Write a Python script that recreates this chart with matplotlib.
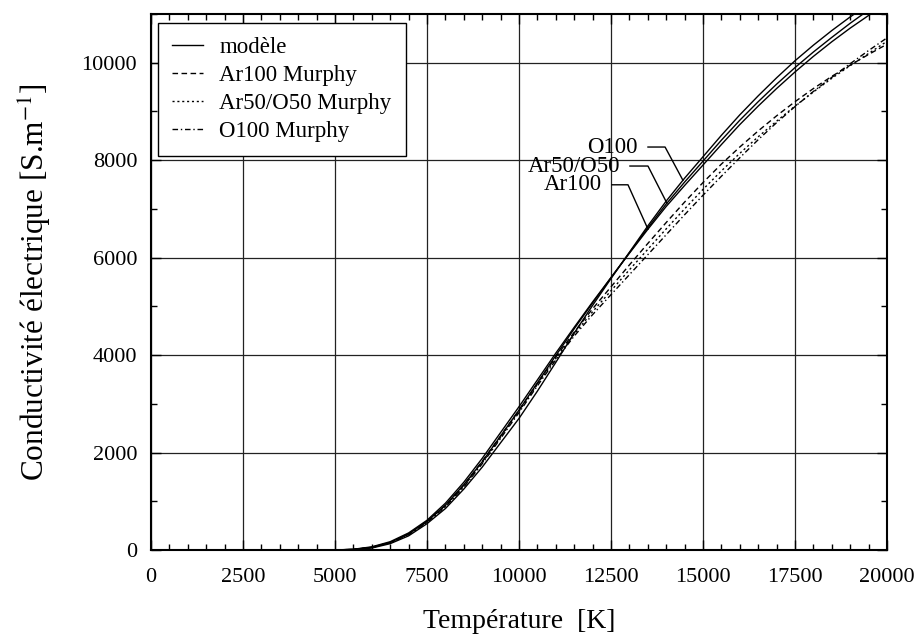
import numpy as np
import matplotlib
matplotlib.use("Agg")
import matplotlib.pyplot as plt
from matplotlib.ticker import MultipleLocator

plt.rcParams['font.family'] = ['Liberation Serif', 'DejaVu Serif']
plt.rcParams['mathtext.fontset'] = 'stix'

# temperature grid [K]
temp = [5000, 5500, 6000, 6500, 7000, 7500, 8000, 8500, 9000, 9500,
        10000, 10500, 11000, 11500, 12000, 12500, 13000, 13500, 14000, 14500,
        15000, 15500, 16000, 16500, 17000, 17500, 18000, 18500, 19000, 19500, 20000]

# modele (solid)
sig_o100 = [0, 8, 40, 130, 290, 540, 850, 1250, 1700, 2200,
            2700, 3260, 3850, 4450, 5020, 5570, 6110, 6650, 7160, 7630,
            8070, 8510, 8930, 9320, 9690, 10040, 10360, 10660, 10940, 11200, 11450]
sig_ar50 = [0, 12, 55, 155, 330, 590, 920, 1340, 1810, 2340,
            2870, 3430, 3990, 4540, 5070, 5590, 6100, 6610, 7100, 7550,
            7980, 8410, 8820, 9200, 9560, 9900, 10220, 10520, 10810, 11080, 11340]
sig_ar100 = [0, 15, 65, 170, 350, 610, 960, 1390, 1880, 2410,
             2940, 3490, 4040, 4570, 5090, 5590, 6090, 6580, 7050, 7480,
             7900, 8320, 8730, 9110, 9470, 9810, 10130, 10430, 10710, 10970, 11220]

# Murphy
mur_ar100 = [0, 12, 55, 155, 330, 585, 915, 1330, 1820, 2340,
             2870, 3420, 3960, 4470, 4950, 5400, 5850, 6290, 6720, 7140,
             7540, 7920, 8270, 8600, 8910, 9200, 9470, 9720, 9950, 10170, 10380]
mur_ar50 = [0, 11, 52, 150, 320, 575, 900, 1310, 1790, 2310,
            2850, 3400, 3930, 4430, 4890, 5320, 5750, 6170, 6590, 7000,
            7400, 7780, 8140, 8480, 8800, 9110, 9400, 9680, 9940, 10190, 10440]
mur_o100 = [0, 10, 48, 145, 312, 565, 885, 1290, 1770, 2290,
            2820, 3370, 3900, 4390, 4830, 5240, 5650, 6060, 6470, 6880,
            7280, 7670, 8050, 8420, 8770, 9100, 9410, 9700, 9980, 10250, 10510]

fig = plt.figure(figsize=(9.22, 6.37), dpi=100)
ax = fig.add_axes([0.1638, 0.1366, 0.7982, 0.8414])

lw = 1.0
ax.plot(temp, sig_o100, color='black', lw=lw, label='modèle')
ax.plot(temp, sig_ar50, color='black', lw=lw)
ax.plot(temp, sig_ar100, color='black', lw=lw)
ax.plot(temp, mur_ar100, color='black', lw=lw, ls=(0, (4, 2.5)), label='Ar100 Murphy')
ax.plot(temp, mur_ar50, color='black', lw=lw, ls=(0, (1.5, 2)), label='Ar50/O50 Murphy')
ax.plot(temp, mur_o100, color='black', lw=lw, ls=(0, (4, 2, 1, 2)), label='O100 Murphy')

ax.set_xlim(0, 20000)
ax.set_ylim(0, 11000)
ax.xaxis.set_major_locator(MultipleLocator(2500))
ax.xaxis.set_minor_locator(MultipleLocator(500))
ax.yaxis.set_major_locator(MultipleLocator(2000))
ax.yaxis.set_minor_locator(MultipleLocator(1000))
ax.tick_params(which='both', direction='in', top=True, right=True, labelsize=16)
ax.tick_params(which='major', length=7, width=1)
ax.tick_params(which='minor', length=4.5, width=1)
ax.tick_params(axis='x', pad=13)
ax.tick_params(axis='y', pad=10)
ax.grid(True, which='major', color='#222222', lw=0.9)
for sp in ax.spines.values():
    sp.set_linewidth(1.5)

ax.set_xlabel('Température  [K]', fontsize=20, labelpad=16)
ax.set_ylabel('Conductivité électrique [S.m$^{-1}$]', fontsize=22.5, labelpad=20)

# labels with leader lines
labels = [('O100', 13230, 8270, 13505, 13970, 14455, sig_o100),
          ('Ar50/O50', 12745, 7880, 13015, 13505, 14020, sig_ar50),
          ('Ar100', 12255, 7495, 12527, 12962, 13505, sig_ar100)]
for name, tx, ty, x0, x1, x2, curve in labels:
    ax.text(tx, ty, name, fontsize=16.5, ha='right', va='center')
    y2 = np.interp(x2, temp, curve)
    ax.plot([x0, x1, x2], [ty, ty, y2], color='black', lw=1.0)

leg = ax.legend(loc='upper left', bbox_to_anchor=(0.0095, 0.983), borderaxespad=0,
                fontsize=16.5, fancybox=False, framealpha=1, edgecolor='black',
                handlelength=1.35, handletextpad=0.7, labelspacing=0.3,
                borderpad=0.62)
leg.get_frame().set_linewidth(1.0)

fig.savefig('out.png', dpi=100)
